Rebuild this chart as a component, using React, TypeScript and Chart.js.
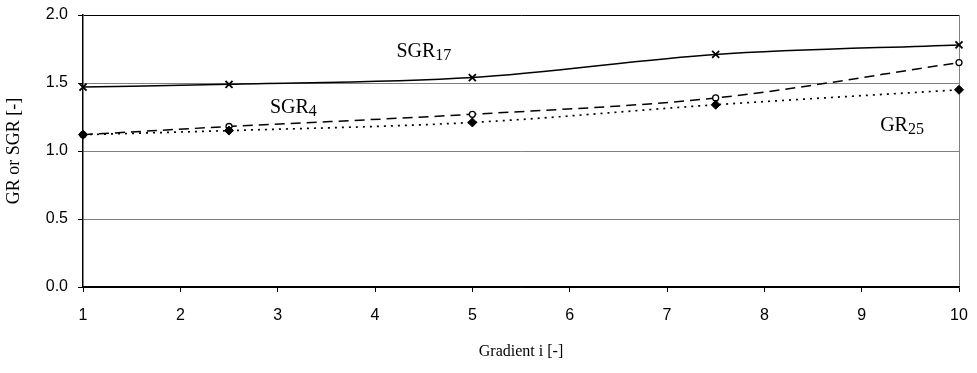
import React, { useEffect, useRef } from "react";
import { Chart, registerables } from "chart.js";

Chart.register(...registerables);

const gradients = [1, 2.5, 5, 7.5, 10];
const sgr17 = [1.47, 1.49, 1.54, 1.71, 1.78];
const sgr4 = [1.12, 1.18, 1.27, 1.39, 1.65];
const gr25 = [1.12, 1.15, 1.21, 1.34, 1.45];
const yTicks = [0, 0.5, 1.0, 1.5, 2.0];
const xTicks = [1, 2, 3, 4, 5, 6, 7, 8, 9, 10];

const labels = [
  { main: "SGR", sub: "17", x: 4.22, y: 1.69 },
  { main: "SGR", sub: "4", x: 2.92, y: 1.28 },
  { main: "GR", sub: "25", x: 9.19, y: 1.147 },
];

const toPts = (arr: number[]) => gradients.map((g, i) => ({ x: g, y: arr[i] }));

const labelPlugin = {
  id: "seriesLabels",
  afterDatasetsDraw(chart: any) {
    const { ctx, scales } = chart;
    ctx.save();
    ctx.fillStyle = "#000";
    ctx.textBaseline = "alphabetic";
    ctx.textAlign = "left";
    for (const l of labels) {
      const px = scales.x.getPixelForValue(l.x);
      const py = scales.y.getPixelForValue(l.y);
      ctx.font = "20px 'Liberation Serif', 'Times New Roman', serif";
      ctx.fillText(l.main, px, py);
      const w = ctx.measureText(l.main).width;
      ctx.font = "16px 'Liberation Serif', 'Times New Roman', serif";
      ctx.fillText(l.sub, px + w, py + 3);
    }
    ctx.restore();
  },
};

export default function App() {
  const ref = useRef<HTMLCanvasElement | null>(null);
  useEffect(() => {
    if (!ref.current) return;
    const chart = new Chart(ref.current, {
      type: "line",
      data: {
        datasets: [
          {
            label: "SGR17",
            data: toPts(sgr17),
            order: 0,
            borderColor: "#000",
            borderWidth: 1.5,
            pointStyle: "crossRot",
            pointRadius: 5,
            pointBorderWidth: 1.8,
            pointBorderColor: "#000",
            cubicInterpolationMode: "monotone",
            clip: false,
          },
          {
            label: "SGR4",
            data: toPts(sgr4),
            order: 2,
            borderColor: "#000",
            borderWidth: 1.5,
            borderDash: [10, 6],
            pointStyle: "circle",
            pointRadius: 3,
            pointBackgroundColor: "#fff",
            pointBorderColor: "#000",
            pointBorderWidth: 1.3,
            cubicInterpolationMode: "monotone",
            clip: false,
          },
          {
            label: "GR25",
            data: toPts(gr25),
            order: 1,
            borderColor: "#000",
            borderWidth: 1.7,
            borderDash: [2, 5],
            pointStyle: "rectRot",
            pointRadius: 4.5,
            pointBackgroundColor: "#000",
            pointBorderColor: "#000",
            pointBorderWidth: 1,
            cubicInterpolationMode: "monotone",
            clip: false,
          },
        ],
      },
      options: {
        responsive: false,
        animation: false,
        layout: { padding: { left: 0, right: 18, top: 15, bottom: 0 } },
        plugins: { legend: { display: false }, tooltip: { enabled: false } },
        scales: {
          x: {
            type: "linear",
            min: 1,
            max: 10,
            afterBuildTicks: (s: any) => {
              s.ticks = xTicks.map((v) => ({ value: v }));
            },
            afterFit: (s: any) => {
              s.height = 86;
              s.paddingLeft = 0;
              s.paddingRight = 0;
            },
            ticks: {
              color: "#000",
              padding: 14,
              maxRotation: 0,
              font: { family: "'Liberation Sans', Arial, sans-serif", size: 16 },
              callback: (v: any) => String(v),
            },
            grid: {
              color: (c: any) => (c.tick && c.tick.value === 10 ? "#808080" : "rgba(0,0,0,0)"),
              tickColor: "#000",
              tickLength: 5,
              lineWidth: 1,
            },
            border: { color: "#000", width: 1.5 },
            title: {
              display: true,
              text: "Gradient i [-]",
              color: "#000",
              font: { family: "'Liberation Serif', 'Times New Roman', serif", size: 16 },
              padding: { top: 0, bottom: 12 },
            },
          },
          y: {
            min: 0,
            max: 2,
            afterBuildTicks: (s: any) => {
              s.ticks = yTicks.map((v) => ({ value: v }));
            },
            afterFit: (s: any) => {
              s.width = 83;
              s.paddingTop = 0;
              s.paddingBottom = 0;
            },
            ticks: {
              color: "#000",
              padding: 10,
              font: { family: "'Liberation Sans', Arial, sans-serif", size: 16 },
              callback: (v: any) => Number(v).toFixed(1),
            },
            grid: {
              color: (c: any) =>
                c.tick && (c.tick.value === 2 || c.tick.value === 0) ? "#000" : "#808080",
              tickColor: "#000",
              tickLength: 5,
              lineWidth: 1,
            },
            border: { color: "#000", width: 1.5 },
            title: {
              display: true,
              text: "GR or SGR [-]",
              color: "#000",
              font: { family: "'Liberation Serif', 'Times New Roman', serif", size: 18 },
              padding: { top: 3, bottom: 0 },
            },
          },
        },
      },
      plugins: [labelPlugin],
    } as any);
    return () => chart.destroy();
  }, []);
  return (
    <div style={{ position: "absolute", left: 0, top: 0, width: 977, height: 373, background: "#fff" }}>
      <canvas ref={ref} width={977} height={373} style={{ width: 977, height: 373, display: "block" }} />
    </div>
  );
}
